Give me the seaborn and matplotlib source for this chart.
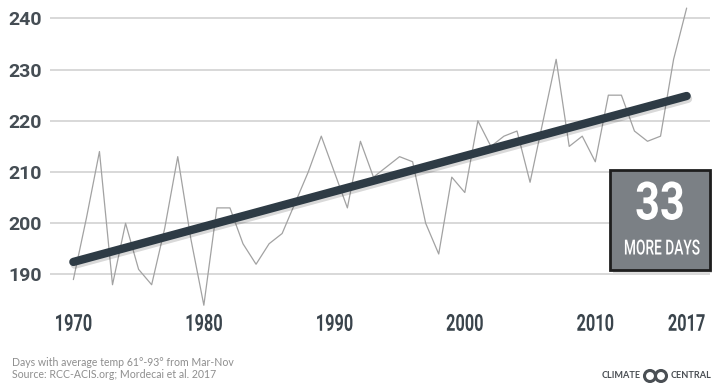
import numpy as np
import pandas as pd
import matplotlib
matplotlib.use("Agg")
import matplotlib.pyplot as plt
import matplotlib.patheffects as pe
from matplotlib.patches import Rectangle, Circle
from matplotlib.transforms import IdentityTransform, Affine2D
import seaborn as sns

# days per year with average temp 61-93 F (Mar-Nov)
years = list(range(1970, 2018))
days = [189, 201, 214, 188, 200, 191, 188, 199, 213, 197,
        184, 203, 203, 196, 192, 196, 198, 204, 210, 217,
        210, 203, 216, 209, 211, 213, 212, 200, 194, 209,
        206, 220, 215, 217, 218, 208, 220, 232, 215, 217,
        212, 225, 225, 218, 216, 217, 232, 242]
x_ticks = [1970, 1980, 1990, 2000, 2010, 2017]
y_ticks = [190, 200, 210, 220, 230, 240]
callout_num = "33"
callout_txt = "MORE DAYS"
note_lines = ["Days with average temp 61°-93° from Mar-Nov",
              "Source: RCC-ACIS.org; Mordecai et al. 2017"]

df = pd.DataFrame({"year": years, "days": days})


class Condense(pe.AbstractPathEffect):
    # squeeze text horizontally, no condensed font installed
    def __init__(self, sx):
        super().__init__()
        self.sx = sx

    def draw_path(self, renderer, gc, tpath, affine, rgbFace=None):
        ext = tpath.get_extents()
        ref = (ext.x0 + ext.x1) / 2
        t = Affine2D().translate(-ref, 0).scale(self.sx, 1).translate(ref, 0) + affine
        renderer.draw_path(gc, tpath, t, rgbFace)


sns.set_style("white")
fam = ["Roboto", "DejaVu Sans"]

fig = plt.figure(figsize=(7.12, 3.83), dpi=100)
ax = fig.add_axes([50 / 712, 1 - 310 / 383, 660 / 712, 307 / 383])

sns.lineplot(data=df, x="year", y="days", ax=ax, color="#a2a2a2", lw=0.9, zorder=3)
sns.regplot(data=df, x="year", y="days", ax=ax, scatter=False, ci=None,
            line_kws=dict(color="#2e3b45", lw=6, solid_capstyle="round", zorder=4,
                          path_effects=[pe.SimpleLineShadow(offset=(1, -2), alpha=0.15,
                                                            shadow_color="k"),
                                        pe.Normal()]))

ax.set_xlim(1968.21, 2018.79)
ax.set_ylim(183.07, 242.99)
ax.set_xticks(x_ticks)
ax.set_yticks(y_ticks)
ax.set_xlabel("")
ax.set_ylabel("")
ax.yaxis.grid(True, color="#d6d6d6", lw=1.3, zorder=0)
ax.xaxis.grid(False)
ax.set_axisbelow(True)
for s in ax.spines.values():
    s.set_visible(False)
ax.tick_params(axis="both", length=0)
ax.tick_params(axis="y", pad=6)
ax.tick_params(axis="x", pad=2)
for lab in ax.get_yticklabels():
    lab.set_fontfamily(fam)
    lab.set_fontweight("bold")
    lab.set_fontsize(14)
    lab.set_color("#454d54")
for lab in ax.get_xticklabels():
    lab.set_fontfamily(fam)
    lab.set_fontweight("bold")
    lab.set_fontsize(16.8)
    lab.set_color("#3a444c")
    lab.set_path_effects([Condense(0.7)])

# callout box
box = Rectangle((610 / 712, 1 - 270 / 383), 100 / 712, 100 / 383, transform=fig.transFigure,
                facecolor="#7b8085", edgecolor="#1e1e1e", lw=2, zorder=10,
                path_effects=[pe.SimplePatchShadow(offset=(2, -2), alpha=0.15), pe.Normal()])
fig.patches.append(box)
fig.text(660 / 712, 1 - 205 / 383, callout_num, ha="center", va="center", color="white",
         fontsize=38, fontweight="bold", family=fam, zorder=11,
         path_effects=[Condense(0.82)])
fig.text(662 / 712, 1 - 249 / 383, callout_txt, ha="center", va="center", color="white",
         fontsize=15, fontweight="medium", family=fam, zorder=11,
         path_effects=[Condense(0.66)])

# footnote
fig.text(12.5 / 712, 1 - 362 / 383, note_lines[0], ha="left", va="center",
         color="#8e8e8e", fontsize=7.6, family=["Lato", "DejaVu Sans"])
fig.text(12.5 / 712, 1 - 375 / 383, note_lines[1], ha="left", va="center",
         color="#8e8e8e", fontsize=7.6, family=["Lato", "DejaVu Sans"])

# logo
fig.text(641 / 712, 1 - 376 / 383, "CLIMATE", ha="right", va="center", color="#4a4f54",
         fontsize=6.6, fontweight="bold", family=["Lato", "DejaVu Sans"])
fig.text(671 / 712, 1 - 376 / 383, "CENTRAL", ha="left", va="center", color="#4a4f54",
         fontsize=6.6, fontweight="bold", family=["Lato", "DejaVu Sans"])
for cx in (650, 661):
    fig.patches.append(Circle((cx, 383 - 376), 5.5, transform=IdentityTransform(),
                              fill=False, edgecolor="#4a4f54", lw=2.2))

fig.savefig("out.png", dpi=100, facecolor="white")
